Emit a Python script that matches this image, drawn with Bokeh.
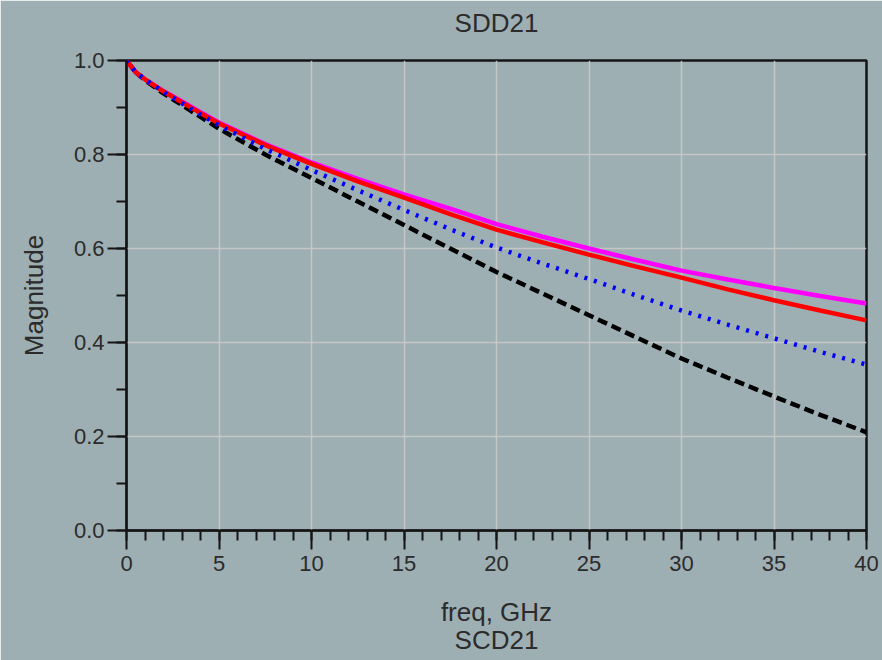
from bokeh.plotting import figure
from bokeh.models import SingleIntervalTicker, PrintfTickFormatter, Range1d, Title
from bokeh.embed import file_html
from bokeh.resources import INLINE

freq = [0, 0.5, 1, 2, 3, 4, 5, 7.5, 10, 12.5, 15, 17.5, 20, 22.5, 25, 27.5, 30, 32.5, 35, 37.5, 40]
mag_magenta = [1.0, 0.975, 0.960, 0.935, 0.913, 0.890, 0.868, 0.822, 0.783, 0.748, 0.715, 0.685,
               0.652, 0.625, 0.600, 0.576, 0.553, 0.534, 0.516, 0.499, 0.483]
mag_red = [1.0, 0.975, 0.960, 0.934, 0.911, 0.888, 0.866, 0.820, 0.780, 0.743, 0.708, 0.673,
           0.640, 0.613, 0.587, 0.562, 0.538, 0.513, 0.490, 0.468, 0.447]
mag_blue = [1.0, 0.975, 0.960, 0.933, 0.909, 0.885, 0.862, 0.812, 0.767, 0.724, 0.682, 0.641,
            0.602, 0.568, 0.535, 0.501, 0.468, 0.438, 0.409, 0.380, 0.353]
mag_black = [1.0, 0.975, 0.958, 0.930, 0.905, 0.880, 0.855, 0.800, 0.750, 0.700, 0.650, 0.600,
             0.550, 0.504, 0.458, 0.412, 0.366, 0.325, 0.285, 0.246, 0.209]

BG = "#9eafb3"
TXT = "#2b2b2b"
FONT = "Liberation Sans"

p = figure(width=882, height=660, output_backend="svg", toolbar_location=None,
           x_range=Range1d(0, 40), y_range=Range1d(0, 1.0),
           min_border_left=126, min_border_right=16, min_border_top=60, min_border_bottom=130)
p.background_fill_color = BG
p.border_fill_color = BG
p.outline_line_color = "#151515"
p.outline_line_width = 2.5

p.title.text = ""
p.title.standoff = 0
# spacer between frame and title
p.add_layout(Title(text=" ", text_font_size="16px", standoff=0, text_color=BG), "above")
p.add_layout(Title(text="SDD21", align="center", text_font=FONT, text_font_size="26px",
                   text_font_style="normal", text_color=TXT, standoff=7), "above")

p.xaxis.ticker = SingleIntervalTicker(interval=5, num_minor_ticks=5)
p.yaxis.ticker = SingleIntervalTicker(interval=0.2, num_minor_ticks=2)
p.yaxis.formatter = PrintfTickFormatter(format="%.1f")
p.xaxis.axis_label = "freq, GHz\nSCD21"
p.yaxis.axis_label = "Magnitude"

for ax in (p.xaxis, p.yaxis):
    ax.axis_line_color = "#151515"
    ax.axis_line_width = 2
    ax.major_tick_line_color = "#151515"
    ax.major_tick_line_width = 2
    ax.minor_tick_line_color = "#151515"
    ax.minor_tick_line_width = 2
    ax.major_tick_in = 0
    ax.minor_tick_in = 0
    ax.major_tick_out = 19
    ax.minor_tick_out = 10
    ax.major_label_text_font = FONT
    ax.major_label_text_font_size = "22px"
    ax.major_label_text_color = TXT
    ax.axis_label_text_font = FONT
    ax.axis_label_text_font_size = "26px"
    ax.axis_label_text_font_style = "normal"
    ax.axis_label_text_color = TXT

p.xaxis.axis_label_text_line_height = 0.95
p.xaxis.major_label_standoff = 6
p.yaxis.major_label_standoff = 3
p.xaxis.axis_label_standoff = 23
p.yaxis.axis_label_standoff = 22

p.grid.grid_line_color = "#c8cac8"
p.grid.grid_line_width = 1.5
p.grid.grid_line_alpha = 0.9

p.line(freq, mag_black, line_color="black", line_width=4.5, line_dash="10 5")
p.line(freq, mag_magenta, line_color="#ff00ff", line_width=4.5)
p.line(freq, mag_red, line_color="#ff0000", line_width=4.5)
p.line(freq, mag_blue, line_color="#0000ff", line_width=4.5, line_dash="3 7")

html = file_html(p, INLINE)
html = html.replace("<body>", '<body style="background-color:%s;">' % BG, 1)
open("out.html", "w").write(html)
